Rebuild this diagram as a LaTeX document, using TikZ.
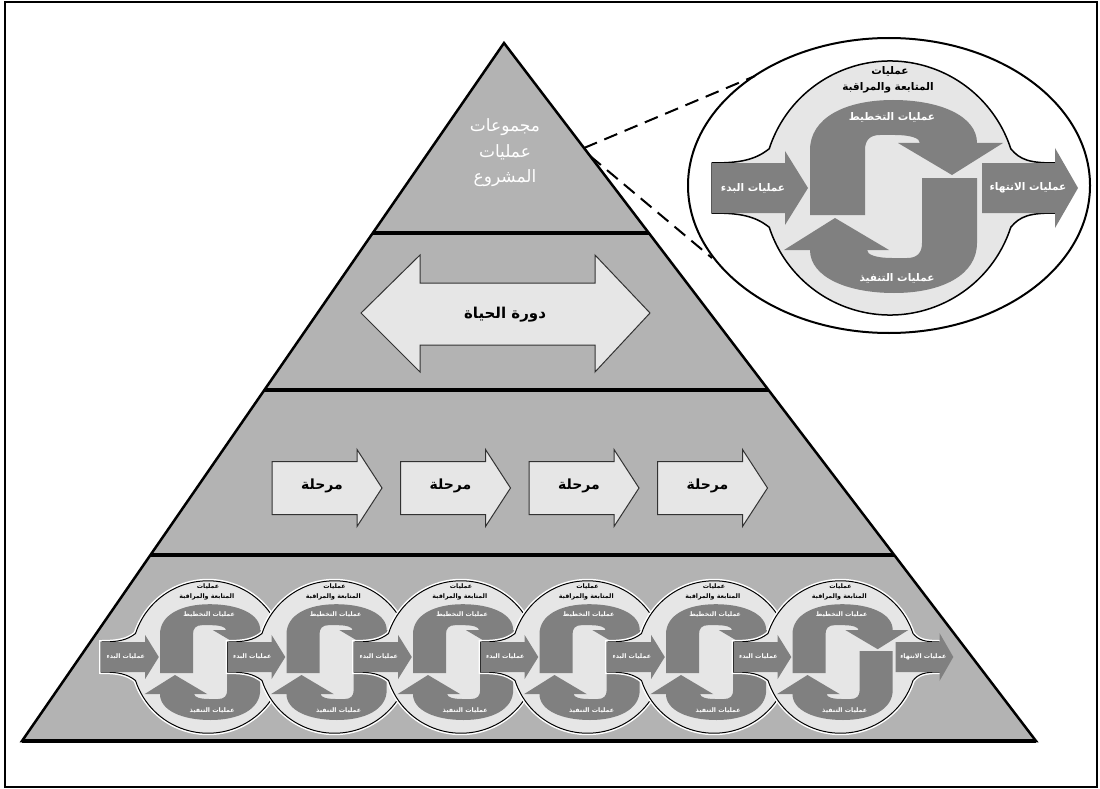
\documentclass[tikz,border=0pt]{standalone}
\usepackage{fontspec}
\newfontfamily\arabicfont[Script=Arabic]{DejaVu Sans}
\TeXXeTstate=1
\usetikzlibrary{calc}
\definecolor{pyrfill}{RGB}{179,179,179}
\definecolor{lightfill}{RGB}{230,230,230}
\definecolor{darkarrow}{RGB}{128,128,128}
\definecolor{edgegray}{RGB}{50,50,50}
\newcommand{\ar}[1]{\beginR #1\endR}
\newcommand{\fsz}[1]{\fontsize{#1}{#1}\selectfont}
\tikzset{
  arrowbox/.style={fill=lightfill, draw=edgegray, line width=1pt, line join=miter},
  procarrow/.style={fill=darkarrow, draw=none},
  whitetext/.style={text=white, inner sep=0pt},
  blacktext/.style={text=black, inner sep=0pt},
  zoomdash/.style={draw=black, line width=2pt, dash pattern=on 14pt off 8pt},
}
\newcommand{\blobpath}{(198:127) arc[start angle=198, end angle=342, radius=127]
  .. controls (130,-28) and (140,-25) .. (165,-25)
  -- (165,25)
  .. controls (140,25) and (130,28) .. (18:127)
  arc[start angle=18, end angle=162, radius=127]
  .. controls (-135,28) and (-150,25) .. (-178,25)
  -- (-178,-25)
  .. controls (-150,-25) and (-135,-28) .. cycle}
\newcommand{\planpath}{(-80,27) -- (-80,-38) .. controls (-80,-70) and (-45,-88) .. (3,-88)
  .. controls (50,-88) and (87,-72) .. (87,-45) -- (113,-45) -- (62,-13) -- (8,-45) -- (30,-45)
  .. controls (30,-50) and (20,-53) .. (5,-53) -- (-10,-53)
  .. controls (-20,-53) and (-25,-48) .. (-25,-38) -- (-25,27) -- cycle}
% #1 shift, #2 scale, #3 font size, #4 name prefix, #5 outline width
\newcommand{\procunit}[5]{%
  \begin{scope}[shift={#1}, scale=#2]
    \path[draw=white, line width=4pt] \blobpath;
    \path[fill=lightfill, draw=black, line width=#5] \blobpath;
    \path[procarrow] \planpath;
    \begin{scope}[rotate around={180:(3.5,8.5)}]
      \path[procarrow] \planpath;
    \end{scope}
    \path[procarrow] (-178,-25) -- (-105,-25) -- (-105,-37) -- (-82,0) -- (-105,37) -- (-105,25) -- (-178,25) -- cycle;
    \node[blacktext, font=\arabicfont\bfseries\fsz{#3}] (#4t1) at (0,-117) {\ar{عمليات}};
    \node[blacktext, font=\arabicfont\bfseries\fsz{#3}] (#4t2) at (-2,-100) {\ar{المتابعة والمراقبة}};
    \node[whitetext, font=\arabicfont\bfseries\fsz{#3}] (#4pl) at (2,-71) {\ar{عمليات التخطيط}};
    \node[whitetext, font=\arabicfont\bfseries\fsz{#3}] (#4ex) at (7,90) {\ar{عمليات التنفيذ}};
    \node[whitetext, font=\arabicfont\bfseries\fsz{#3}] (#4st) at (-137,0) {\ar{عمليات البدء}};
  \end{scope}}
\newcommand{\finisharrow}[4]{%
  \begin{scope}[shift={#1}, scale=#2]
    \path[procarrow] (92,-25) -- (165,-25) -- (165,-40) -- (188,0) -- (165,40) -- (165,25) -- (92,25) -- cycle;
    \node[whitetext, font=\arabicfont\bfseries\fsz{#3}] (#4en) at (138,0) {\ar{عمليات الانتهاء}};
  \end{scope}}
\begin{document}
\begin{tikzpicture}[x=1pt,y=-1pt]
\useasboundingbox (0,0) rectangle (1100,789);
\draw[line width=2.5pt] (5,2) rectangle (1097,787);
% pyramid
\coordinate (apex) at (504,43);
\coordinate (bl) at (22,741);
\coordinate (br) at (1036,741);
\fill[pyrfill] (apex) -- (bl) -- (br) -- cycle;
\foreach \yy/\nm in {233/sa, 390/sb, 555/sc} {
  \coordinate (\nm l) at ($(apex)!{(\yy-43)/698}!(bl)$);
  \coordinate (\nm r) at ($(apex)!{(\yy-43)/698}!(br)$);
  \draw[line width=4pt] (\nm l) -- (\nm r);
}
\draw[line width=2.5pt, line join=miter] (apex) -- (bl) -- (br) -- cycle;
\draw[line width=3.5pt] (bl) -- (br);
% top text
\node[text=white, font=\arabicfont\fsz{17}, align=center, inner sep=0pt] (toptext) at (505,153)
  {\ar{مجموعات}\\[8pt]\ar{عمليات}\\[8pt]\ar{المشروع}};
% life cycle
\draw[arrowbox] (361,313) -- (420,255) -- (420,283) -- (595,283) -- (595,255) -- (650,313)
  -- (595,372) -- (595,345) -- (420,345) -- (420,372) -- cycle;
\node[font=\arabicfont\bfseries\fsz{15}] (life) at (505,315) {\ar{دورة الحياة}};
% phases
\foreach \xx [count=\i] in {272,400.5,529,657.5} {
  \draw[arrowbox] (\xx,461.5) -- (\xx+85,461.5) -- (\xx+85,449.5) -- (\xx+110,488)
    -- (\xx+85,526.5) -- (\xx+85,514.5) -- (\xx,514.5) -- cycle;
  \node[font=\arabicfont\bfseries\fsz{14}] (ph\i) at (\xx+50,486) {\ar{مرحلة}};
}
% zoom ellipse
\draw[line width=2pt, fill=white] (889,185.5) ellipse [x radius=201, y radius=147.5];
\coordinate (dza) at ($(apex)!{(148-43)/698}!(br)$);
\coordinate (dzb) at ($(apex)!{(156-43)/698}!(br)$);
\coordinate (eza) at (755,76);
\coordinate (ezb) at (712,258);
\draw[zoomdash] (dza) -- (eza);
\draw[zoomdash] (dzb) -- (ezb);
\procunit{(890,188)}{1}{10.5}{big}{1.5pt}
\finisharrow{(890,188)}{1}{10.5}{big}
% bottom band units
\foreach \i in {0,...,5} {
  \pgfmathsetmacro\ux{208+126.5*\i}
  \procunit{(\ux,657)}{0.6}{6.3}{u\i}{1pt}
}
\finisharrow{(840.5,657)}{0.6}{6.3}{ulast}
\end{tikzpicture}
\end{document}
